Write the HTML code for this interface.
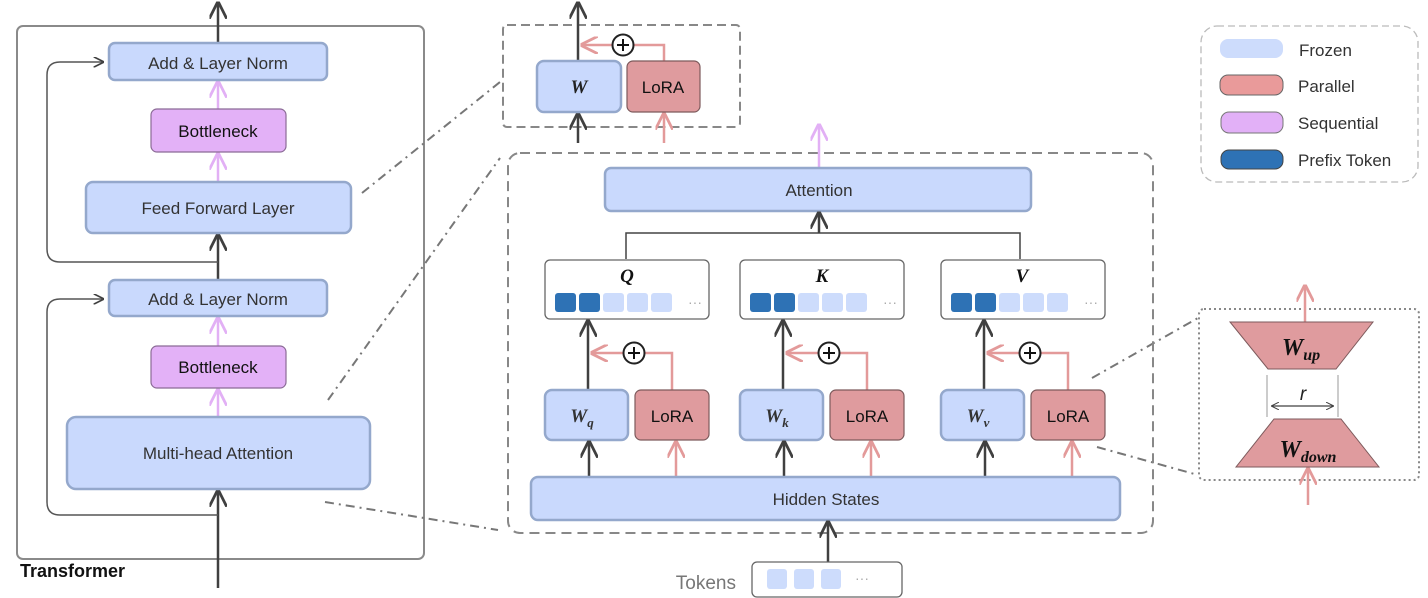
<!DOCTYPE html>
<html><head><meta charset="utf-8"><style>
body{margin:0;background:#fff}
svg{display:block}
text{font-family:"Liberation Sans","DejaVu Sans",sans-serif}
.m{font-family:"Liberation Serif","DejaVu Serif",serif;font-style:italic;font-weight:bold}
</style></head><body>
<svg width="1428" height="598" viewBox="0 0 1428 598" xmlns="http://www.w3.org/2000/svg">
<defs>
<marker id="ak" viewBox="0 0 10 10" refX="9" refY="5" markerWidth="7" markerHeight="7" orient="auto-start-reverse"><path d="M0,0 L10,5 L0,10" fill="none" stroke="#404040" stroke-width="1.6"/></marker>
<marker id="ap" viewBox="0 0 10 10" refX="9" refY="5" markerWidth="7" markerHeight="7" orient="auto-start-reverse"><path d="M0,0 L10,5 L0,10" fill="none" stroke="#e39a9a" stroke-width="1.6"/></marker>
<marker id="av" viewBox="0 0 10 10" refX="9" refY="5" markerWidth="7" markerHeight="7" orient="auto-start-reverse"><path d="M0,0 L10,5 L0,10" fill="none" stroke="#e2b0f5" stroke-width="1.6"/></marker>
<marker id="as" viewBox="0 0 10 10" refX="9" refY="5" markerWidth="6" markerHeight="6" orient="auto-start-reverse"><path d="M0,0 L10,5 L0,10" fill="none" stroke="#404040" stroke-width="1.3"/></marker>
</defs>

<!-- Transformer -->
<rect x="17" y="26" width="407" height="533" rx="6" fill="#fff" stroke="#8a8a8a" stroke-width="2"/>
<line x1="218" y1="43" x2="218" y2="3" stroke="#404040" stroke-width="2.5" marker-end="url(#ak)"/>
<line x1="218" y1="588" x2="218" y2="491" stroke="#404040" stroke-width="2.5" marker-end="url(#ak)"/>
<line x1="218" y1="280" x2="218" y2="235" stroke="#404040" stroke-width="2.5" marker-end="url(#ak)"/>
<path d="M218,262 H60 Q47,262 47,249 V75 Q47,62 60,62 H103" fill="none" stroke="#555" stroke-width="1.5" marker-end="url(#ak)"/>
<path d="M218,515 H60 Q47,515 47,502 V312 Q47,299 60,299 H103" fill="none" stroke="#555" stroke-width="1.5" marker-end="url(#ak)"/>
<line x1="218" y1="182" x2="218" y2="154" stroke="#e2b0f5" stroke-width="2.5" marker-end="url(#av)"/>
<line x1="218" y1="109" x2="218" y2="82" stroke="#e2b0f5" stroke-width="2.5" marker-end="url(#av)"/>
<line x1="218" y1="417" x2="218" y2="390" stroke="#e2b0f5" stroke-width="2.5" marker-end="url(#av)"/>
<line x1="218" y1="346" x2="218" y2="318" stroke="#e2b0f5" stroke-width="2.5" marker-end="url(#av)"/>
<rect x="109" y="43" width="218" height="37" rx="6" fill="#c9d9fd" stroke="#94a8cc" stroke-width="2.5"/>
<text x="218" y="69" font-size="17" text-anchor="middle" fill="#333">Add &amp; Layer Norm</text>
<rect x="151" y="109" width="135" height="43" rx="6" fill="#e3b1f7" stroke="#8b6b96" stroke-width="1.2"/>
<text x="218" y="137" font-size="17" text-anchor="middle" fill="#111">Bottleneck</text>
<rect x="86" y="182" width="265" height="51" rx="7" fill="#c9d9fd" stroke="#94a8cc" stroke-width="2.5"/>
<text x="218" y="214" font-size="17" text-anchor="middle" fill="#333">Feed Forward Layer</text>
<rect x="109" y="280" width="218" height="36" rx="6" fill="#c9d9fd" stroke="#94a8cc" stroke-width="2.5"/>
<text x="218" y="305" font-size="17" text-anchor="middle" fill="#333">Add &amp; Layer Norm</text>
<rect x="151" y="346" width="135" height="42" rx="6" fill="#e3b1f7" stroke="#8b6b96" stroke-width="1.2"/>
<text x="218" y="373" font-size="17" text-anchor="middle" fill="#111">Bottleneck</text>
<rect x="67" y="417" width="303" height="72" rx="9" fill="#c9d9fd" stroke="#94a8cc" stroke-width="2.5"/>
<text x="218" y="459" font-size="17" text-anchor="middle" fill="#333">Multi-head Attention</text>
<text x="20" y="577" font-size="18" font-weight="bold" fill="#111">Transformer</text>

<!-- dash-dot connectors -->
<g stroke="#777" stroke-width="2" stroke-dasharray="9,5,2,5" fill="none">
<line x1="362" y1="193" x2="500" y2="82"/>
<line x1="328" y1="400" x2="500" y2="158"/>
<line x1="325" y1="502" x2="498" y2="530"/>
<line x1="1092" y1="378" x2="1198" y2="318"/>
<line x1="1097" y1="447" x2="1198" y2="475"/>
</g>

<!-- top W/LoRA box -->
<rect x="503" y="25" width="237" height="102" rx="4" fill="none" stroke="#888" stroke-width="2" stroke-dasharray="9,5"/>
<line x1="578" y1="61" x2="578" y2="3" stroke="#404040" stroke-width="2.5" marker-end="url(#ak)"/>
<line x1="578" y1="143" x2="578" y2="114" stroke="#404040" stroke-width="2.5" marker-end="url(#ak)"/>
<line x1="664" y1="143" x2="664" y2="114" stroke="#e39a9a" stroke-width="2.5" marker-end="url(#ap)"/>
<path d="M664,61 V45 H633" fill="none" stroke="#e39a9a" stroke-width="2.5"/>
<line x1="613" y1="45" x2="582" y2="45" stroke="#e39a9a" stroke-width="2.5" marker-end="url(#ap)"/>
<circle cx="623" cy="45" r="10.5" fill="#fff" stroke="#222" stroke-width="2"/>
<path d="M617,45 H629 M623,39 V51" stroke="#111" stroke-width="2"/>
<rect x="537" y="61" width="84" height="51" rx="7" fill="#c9d9fd" stroke="#94a8cc" stroke-width="2.5"/>
<text x="579" y="93" font-size="19" text-anchor="middle" class="m" fill="#222">W</text>
<rect x="627" y="61" width="73" height="51" rx="6" fill="#df9b9e" stroke="#7d5a5c" stroke-width="1.2"/>
<text x="663" y="93" font-size="17" text-anchor="middle" fill="#111">LoRA</text>

<!-- main dashed box -->
<rect x="508" y="153" width="645" height="380" rx="12" fill="none" stroke="#888" stroke-width="2" stroke-dasharray="10,6"/>
<line x1="819" y1="168" x2="819" y2="125" stroke="#e2b0f5" stroke-width="2.5" marker-end="url(#av)"/>
<rect x="605" y="168" width="426" height="43" rx="6" fill="#c9d9fd" stroke="#94a8cc" stroke-width="2.5"/>
<text x="819" y="196" font-size="17" text-anchor="middle" fill="#333">Attention</text>
<path d="M626,259 V233 H1020 V259" fill="none" stroke="#444" stroke-width="1.5"/>
<line x1="819" y1="233" x2="819" y2="213" stroke="#404040" stroke-width="2.5" marker-end="url(#ak)"/>

<!-- Q K V groups -->
<g id="grp">
<rect x="545" y="260" width="164" height="59" rx="5" fill="#fff" stroke="#666" stroke-width="1.3"/>
<rect x="555" y="293" width="21" height="19" rx="3" fill="#2e72b5"/>
<rect x="579" y="293" width="21" height="19" rx="3" fill="#2e72b5"/>
<rect x="603" y="293" width="21" height="19" rx="3" fill="#cddcfc"/>
<rect x="627" y="293" width="21" height="19" rx="3" fill="#cddcfc"/>
<rect x="651" y="293" width="21" height="19" rx="3" fill="#cddcfc"/>
<text x="688" y="307" font-size="14" fill="#aaa">···</text>
<line x1="588" y1="390" x2="588" y2="321" stroke="#404040" stroke-width="2.5" marker-end="url(#ak)"/>
<path d="M672,390 V353 H644" fill="none" stroke="#e39a9a" stroke-width="2.5"/>
<line x1="624" y1="353" x2="592" y2="353" stroke="#e39a9a" stroke-width="2.5" marker-end="url(#ap)"/>
<circle cx="634" cy="353" r="10.5" fill="#fff" stroke="#222" stroke-width="2"/>
<path d="M628,353 H640 M634,347 V359" stroke="#111" stroke-width="2"/>
<rect x="545" y="390" width="83" height="50" rx="7" fill="#c9d9fd" stroke="#94a8cc" stroke-width="2.5"/>
<rect x="635" y="390" width="74" height="50" rx="6" fill="#df9b9e" stroke="#7d5a5c" stroke-width="1.2"/>
<text x="672" y="422" font-size="17" text-anchor="middle" fill="#111">LoRA</text>
<line x1="589" y1="477" x2="589" y2="442" stroke="#404040" stroke-width="2.5" marker-end="url(#ak)"/>
<line x1="676" y1="477" x2="676" y2="442" stroke="#e39a9a" stroke-width="2.5" marker-end="url(#ap)"/>
</g>
<use href="#grp" x="195"/>
<use href="#grp" x="396"/>
<text x="627" y="282" font-size="19" text-anchor="middle" class="m" fill="#111">Q</text>
<text x="822" y="282" font-size="19" text-anchor="middle" class="m" fill="#111">K</text>
<text x="1022" y="282" font-size="19" text-anchor="middle" class="m" fill="#111">V</text>
<text x="582" y="422" font-size="19" text-anchor="middle" class="m" fill="#333">W<tspan font-size="13" dy="5">q</tspan></text>
<text x="777" y="422" font-size="19" text-anchor="middle" class="m" fill="#333">W<tspan font-size="13" dy="5">k</tspan></text>
<text x="978" y="422" font-size="19" text-anchor="middle" class="m" fill="#333">W<tspan font-size="13" dy="5">v</tspan></text>

<rect x="531" y="477" width="589" height="43" rx="7" fill="#c9d9fd" stroke="#94a8cc" stroke-width="2.5"/>
<text x="826" y="505" font-size="17" text-anchor="middle" fill="#333">Hidden States</text>
<line x1="828" y1="562" x2="828" y2="522" stroke="#404040" stroke-width="2.5" marker-end="url(#ak)"/>
<rect x="752" y="562" width="150" height="35" rx="5" fill="#fff" stroke="#666" stroke-width="1.3"/>
<rect x="767" y="569" width="20" height="20" rx="3" fill="#cddcfc"/>
<rect x="794" y="569" width="20" height="20" rx="3" fill="#cddcfc"/>
<rect x="821" y="569" width="20" height="20" rx="3" fill="#cddcfc"/>
<text x="855" y="583" font-size="14" fill="#aaa">···</text>
<text x="736" y="589" font-size="19" text-anchor="end" fill="#777">Tokens</text>

<!-- legend -->
<rect x="1201" y="26" width="217" height="156" rx="16" fill="none" stroke="#bbb" stroke-width="1.3" stroke-dasharray="7,4"/>
<rect x="1220" y="39" width="63" height="19" rx="8" fill="#cddcfc"/>
<rect x="1220" y="75" width="63" height="20" rx="8" fill="#e99a9a" stroke="#666" stroke-width="1"/>
<rect x="1221" y="112" width="62" height="21" rx="8" fill="#e2b0f7" stroke="#777" stroke-width="1"/>
<rect x="1221" y="150" width="62" height="19" rx="8" fill="#2e72b5" stroke="#444" stroke-width="1"/>
<text x="1299" y="56" font-size="17" fill="#333">Frozen</text>
<text x="1298" y="92" font-size="17" fill="#333">Parallel</text>
<text x="1298" y="129" font-size="17" fill="#333">Sequential</text>
<text x="1298" y="166" font-size="17" fill="#333">Prefix Token</text>

<!-- LoRA detail -->
<rect x="1199" y="309" width="220" height="171" rx="5" fill="none" stroke="#888" stroke-width="2" stroke-dasharray="2,3"/>
<line x1="1305" y1="322" x2="1305" y2="286" stroke="#e39a9a" stroke-width="2.5" marker-end="url(#ap)"/>
<line x1="1308" y1="505" x2="1308" y2="469" stroke="#e39a9a" stroke-width="2.5" marker-end="url(#ap)"/>
<polygon points="1230,322 1373,322 1336,369 1268,369" fill="#df9b9e" stroke="#7d5a5c" stroke-width="1"/>
<polygon points="1274,419 1341,419 1379,467 1236,467" fill="#df9b9e" stroke="#7d5a5c" stroke-width="1"/>
<line x1="1267" y1="375" x2="1267" y2="417" stroke="#999" stroke-width="1"/>
<line x1="1338" y1="375" x2="1338" y2="417" stroke="#999" stroke-width="1"/>
<line x1="1272" y1="406" x2="1333" y2="406" stroke="#404040" stroke-width="1.3" marker-start="url(#as)" marker-end="url(#as)"/>
<text x="1303" y="400" font-size="19" text-anchor="middle" font-family="Liberation Serif,serif" font-style="italic" fill="#222">r</text>
<text x="1301" y="355" font-size="24" text-anchor="middle" class="m" fill="#111">W<tspan font-size="16" dy="5">up</tspan></text>
<text x="1308" y="457" font-size="24" text-anchor="middle" class="m" fill="#111">W<tspan font-size="16" dy="5">down</tspan></text>
</svg>
</body></html>
